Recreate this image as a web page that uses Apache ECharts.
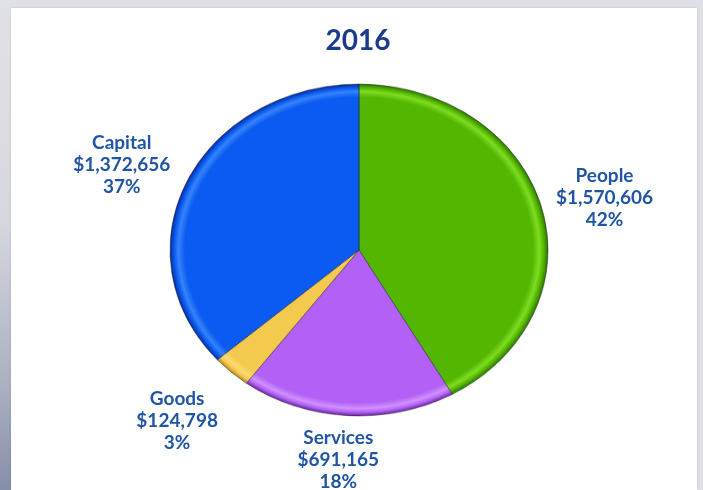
<!DOCTYPE html>
<html>
<head>
<meta charset="utf-8">
<script src="https://cdn.jsdelivr.net/npm/echarts@6/dist/echarts.min.js"></script>
<style>
  html, body { margin: 0; padding: 0; width: 703px; height: 490px; overflow: hidden; }
  body { position: relative; background: #dfe0e5; }
  #edge { position: absolute; left: 0; top: 0; width: 11px; height: 490px;
          background: linear-gradient(#e1e2e7 0%, #d6d8df 45%, #a9aec0 80%, #878ea8 100%); }
  #panel { position: absolute; left: 11px; top: 8px; width: 686px; height: 482px; background: #fff;
           box-shadow: 0 0 2px rgba(0,0,0,0.15); }
  /* the pie is drawn round, then flattened into an ellipse around its centre line */
  #pie { position: absolute; left: 0; top: 0; width: 703px; height: 490px;
         transform-origin: 0 250px; transform: scaleY(0.878); }
  #text { position: absolute; left: 0; top: 0; width: 703px; height: 490px; }
</style>
</head>
<body>
<div id="edge"></div>
<div id="panel"></div>
<div id="pie"></div>
<div id="text"></div>
<script>
// 2016 spending by category
const titleText = '2016';
const categories = ['People', 'Services', 'Goods', 'Capital'];
const amounts = [1570606, 691165, 124798, 1372656];

// slice colours: base, rim highlight, outer edge
const baseColors  = ['#53b600', '#b360f6', '#f3c94e', '#0b5af1'];
const lightColors = ['#7fdc22', '#cf92ff', '#fbda74', '#3584fb'];
const edgeColors  = ['#2e7400', '#652797', '#b3841a', '#082d98'];

const CX = 359, CY = 250, R = 189;

function rimFill(i) {
  return {
    type: 'radial', x: CX, y: CY, r: R, global: true,
    colorStops: [
      { offset: 0, color: baseColors[i] },
      { offset: 0.92, color: baseColors[i] },
      { offset: 0.955, color: lightColors[i] },
      { offset: 0.978, color: baseColors[i] },
      { offset: 1, color: edgeColors[i] }
    ]
  };
}

const pieData = categories.map((name, i) => ({
  name, value: amounts[i], itemStyle: { color: rimFill(i) }
}));

const pieChart = echarts.init(document.getElementById('pie'), null, { renderer: 'canvas' });
pieChart.setOption({
  animation: false,
  series: [{
    type: 'pie',
    center: [CX, CY],
    radius: R,
    startAngle: 90,
    clockwise: true,
    silent: true,
    avoidLabelOverlap: false,
    label: { show: false },
    labelLine: { show: false },
    itemStyle: { borderColor: 'rgba(20,20,40,0.45)', borderWidth: 1 },
    data: pieData
  }]
});

// labels sit on a wider ellipse around the pie, centred on each slice's mid-angle
const total = amounts.reduce((a, b) => a + b, 0);
const LCX = 356, LCY = 252, LX = 257, LY = 211;
// small hand adjustments so the labels clear each other
const labelNudge = [[0, 0], [-2, -3], [-5, 13], [0, 0]];
function labelPos(i) {
  let before = 0;
  for (let k = 0; k < i; k++) before += amounts[k];
  const mid = (before + amounts[i] / 2) / total * Math.PI * 2;
  return {
    x: LCX + LX * Math.sin(mid) + labelNudge[i][0],
    y: LCY - LY * Math.cos(mid) + labelNudge[i][1]
  };
}

const textChart = echarts.init(document.getElementById('text'), null, { renderer: 'canvas' });
textChart.setOption({
  animation: false,
  title: {
    text: titleText,
    left: 353, top: 22, textAlign: 'center',
    textStyle: { fontFamily: 'Lato', fontWeight: 'bold', fontSize: 28, color: '#1b3b8c' }
  },
  series: [{
    type: 'pie',
    center: [CX, CY],
    radius: R,
    startAngle: 90,
    silent: true,
    avoidLabelOverlap: false,
    itemStyle: { color: 'rgba(0,0,0,0)' },
    emphasis: { disabled: true },
    labelLine: { show: false },
    label: {
      show: true,
      position: 'outside',
      fontFamily: 'Lato', fontWeight: 'bold', fontSize: 19, lineHeight: 22,
      color: '#2055a5',
      formatter: p => p.name + '\n$' + p.value.toLocaleString('en-US') + '\n' + Math.round(p.percent) + '%'
    },
    labelLayout: p => {
      const pos = labelPos(p.dataIndex);
      return { x: pos.x, y: pos.y, align: 'center', verticalAlign: 'middle' };
    },
    data: categories.map((name, i) => ({ name, value: amounts[i] }))
  }]
});
</script>
</body>
</html>
